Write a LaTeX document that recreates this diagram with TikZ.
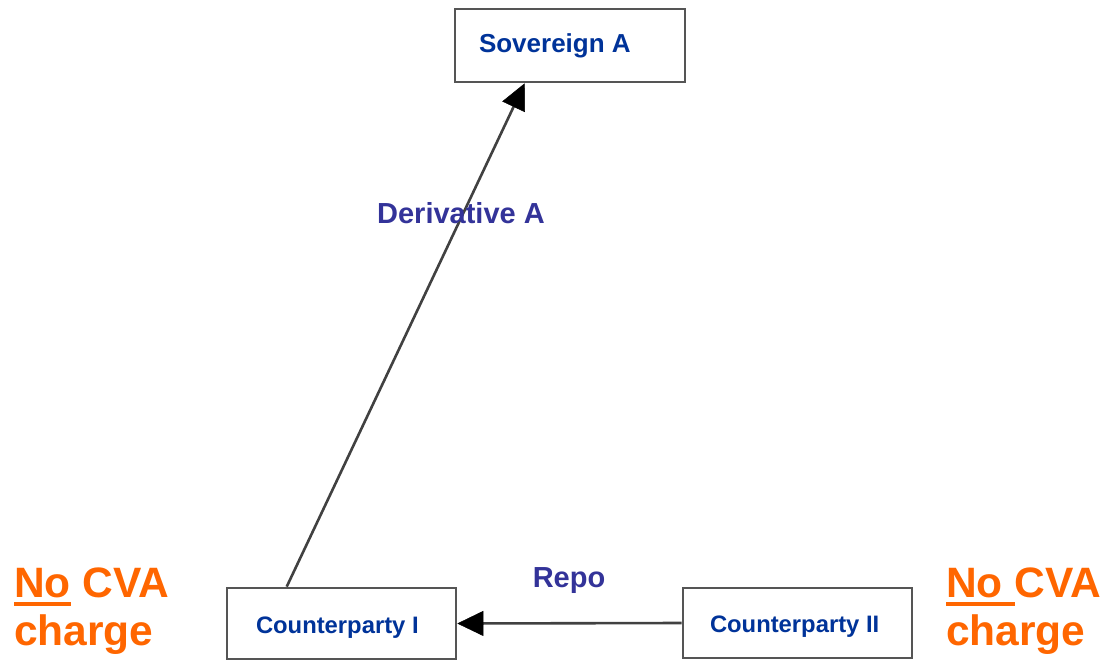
\documentclass[tikz,border=0pt]{standalone}
\usepackage{fontspec}
\setmainfont{Liberation Sans}
\usetikzlibrary{arrows.meta,calc}
\definecolor{boxblue}{RGB}{0,51,153}
\definecolor{edgeblue}{RGB}{51,51,153}
\definecolor{cvaorange}{RGB}{255,102,0}
\definecolor{boxgray}{RGB}{85,85,85}
\definecolor{linegray}{RGB}{65,65,65}
\newcommand\myul[1]{\setbox0\hbox{#1}\rlap{\rule[-8pt]{\wd0}{4pt}}\box0\relax}
\begin{document}
\begin{tikzpicture}[x=1pt,y=-1pt,
  partybox/.style={draw=boxgray,line width=2.6pt,fill=white,rectangle,
    inner xsep=0pt,inner ysep=0pt,text=boxblue},
  edgelabel/.style={text=edgeblue,font=\fontsize{29}{34}\selectfont\bfseries,inner sep=0pt},
  cvalabel/.style={text=cvaorange,font=\fontsize{42.5}{48}\selectfont\bfseries,
    align=left,inner sep=0pt,anchor=north west},
  conn/.style={draw=linegray,line width=2.6pt,
    -{Triangle[length=26pt,width=25pt,color=black,fill=black,line width=0.5pt]}}]
\useasboundingbox (0,0) rectangle (1105,661);
\node[partybox,minimum height=73pt,
  font=\fontsize{26}{30}\selectfont\bfseries] (sov) at (570,45.5)
  {\makebox[230pt][l]{\hspace*{24pt}Sovereign A}};
\node[partybox,minimum height=71pt,
  font=\fontsize{23.8}{28}\selectfont\bfseries] (cp1) at (341.5,623.5)
  {\makebox[229pt][l]{\hspace*{29pt}\raisebox{-10pt}[0pt][0pt]{Counterparty I}}};
\node[partybox,minimum height=70pt,
  font=\fontsize{23.8}{28}\selectfont\bfseries] (cp2) at (797.5,623)
  {\makebox[229pt][l]{\hspace*{27pt}\raisebox{-9pt}[0pt][0pt]{Counterparty II}}};
\draw[conn] ($(cp1.north west)+(61,0)$) -- ($(sov.south west)+(71,0)$);
\draw[conn] (cp2.west) -- (cp1.east);
\node[edgelabel] (dlab) at (461,213) {Derivative A};
\node[edgelabel] (rlab) at (569,581) {Repo};
\node[cvalabel] (cvaL) at (14,568) {\myul{No} CVA\\charge};
\node[cvalabel] (cvaR) at (946,568) {\myul{No }CVA\\charge};
\end{tikzpicture}
\end{document}
